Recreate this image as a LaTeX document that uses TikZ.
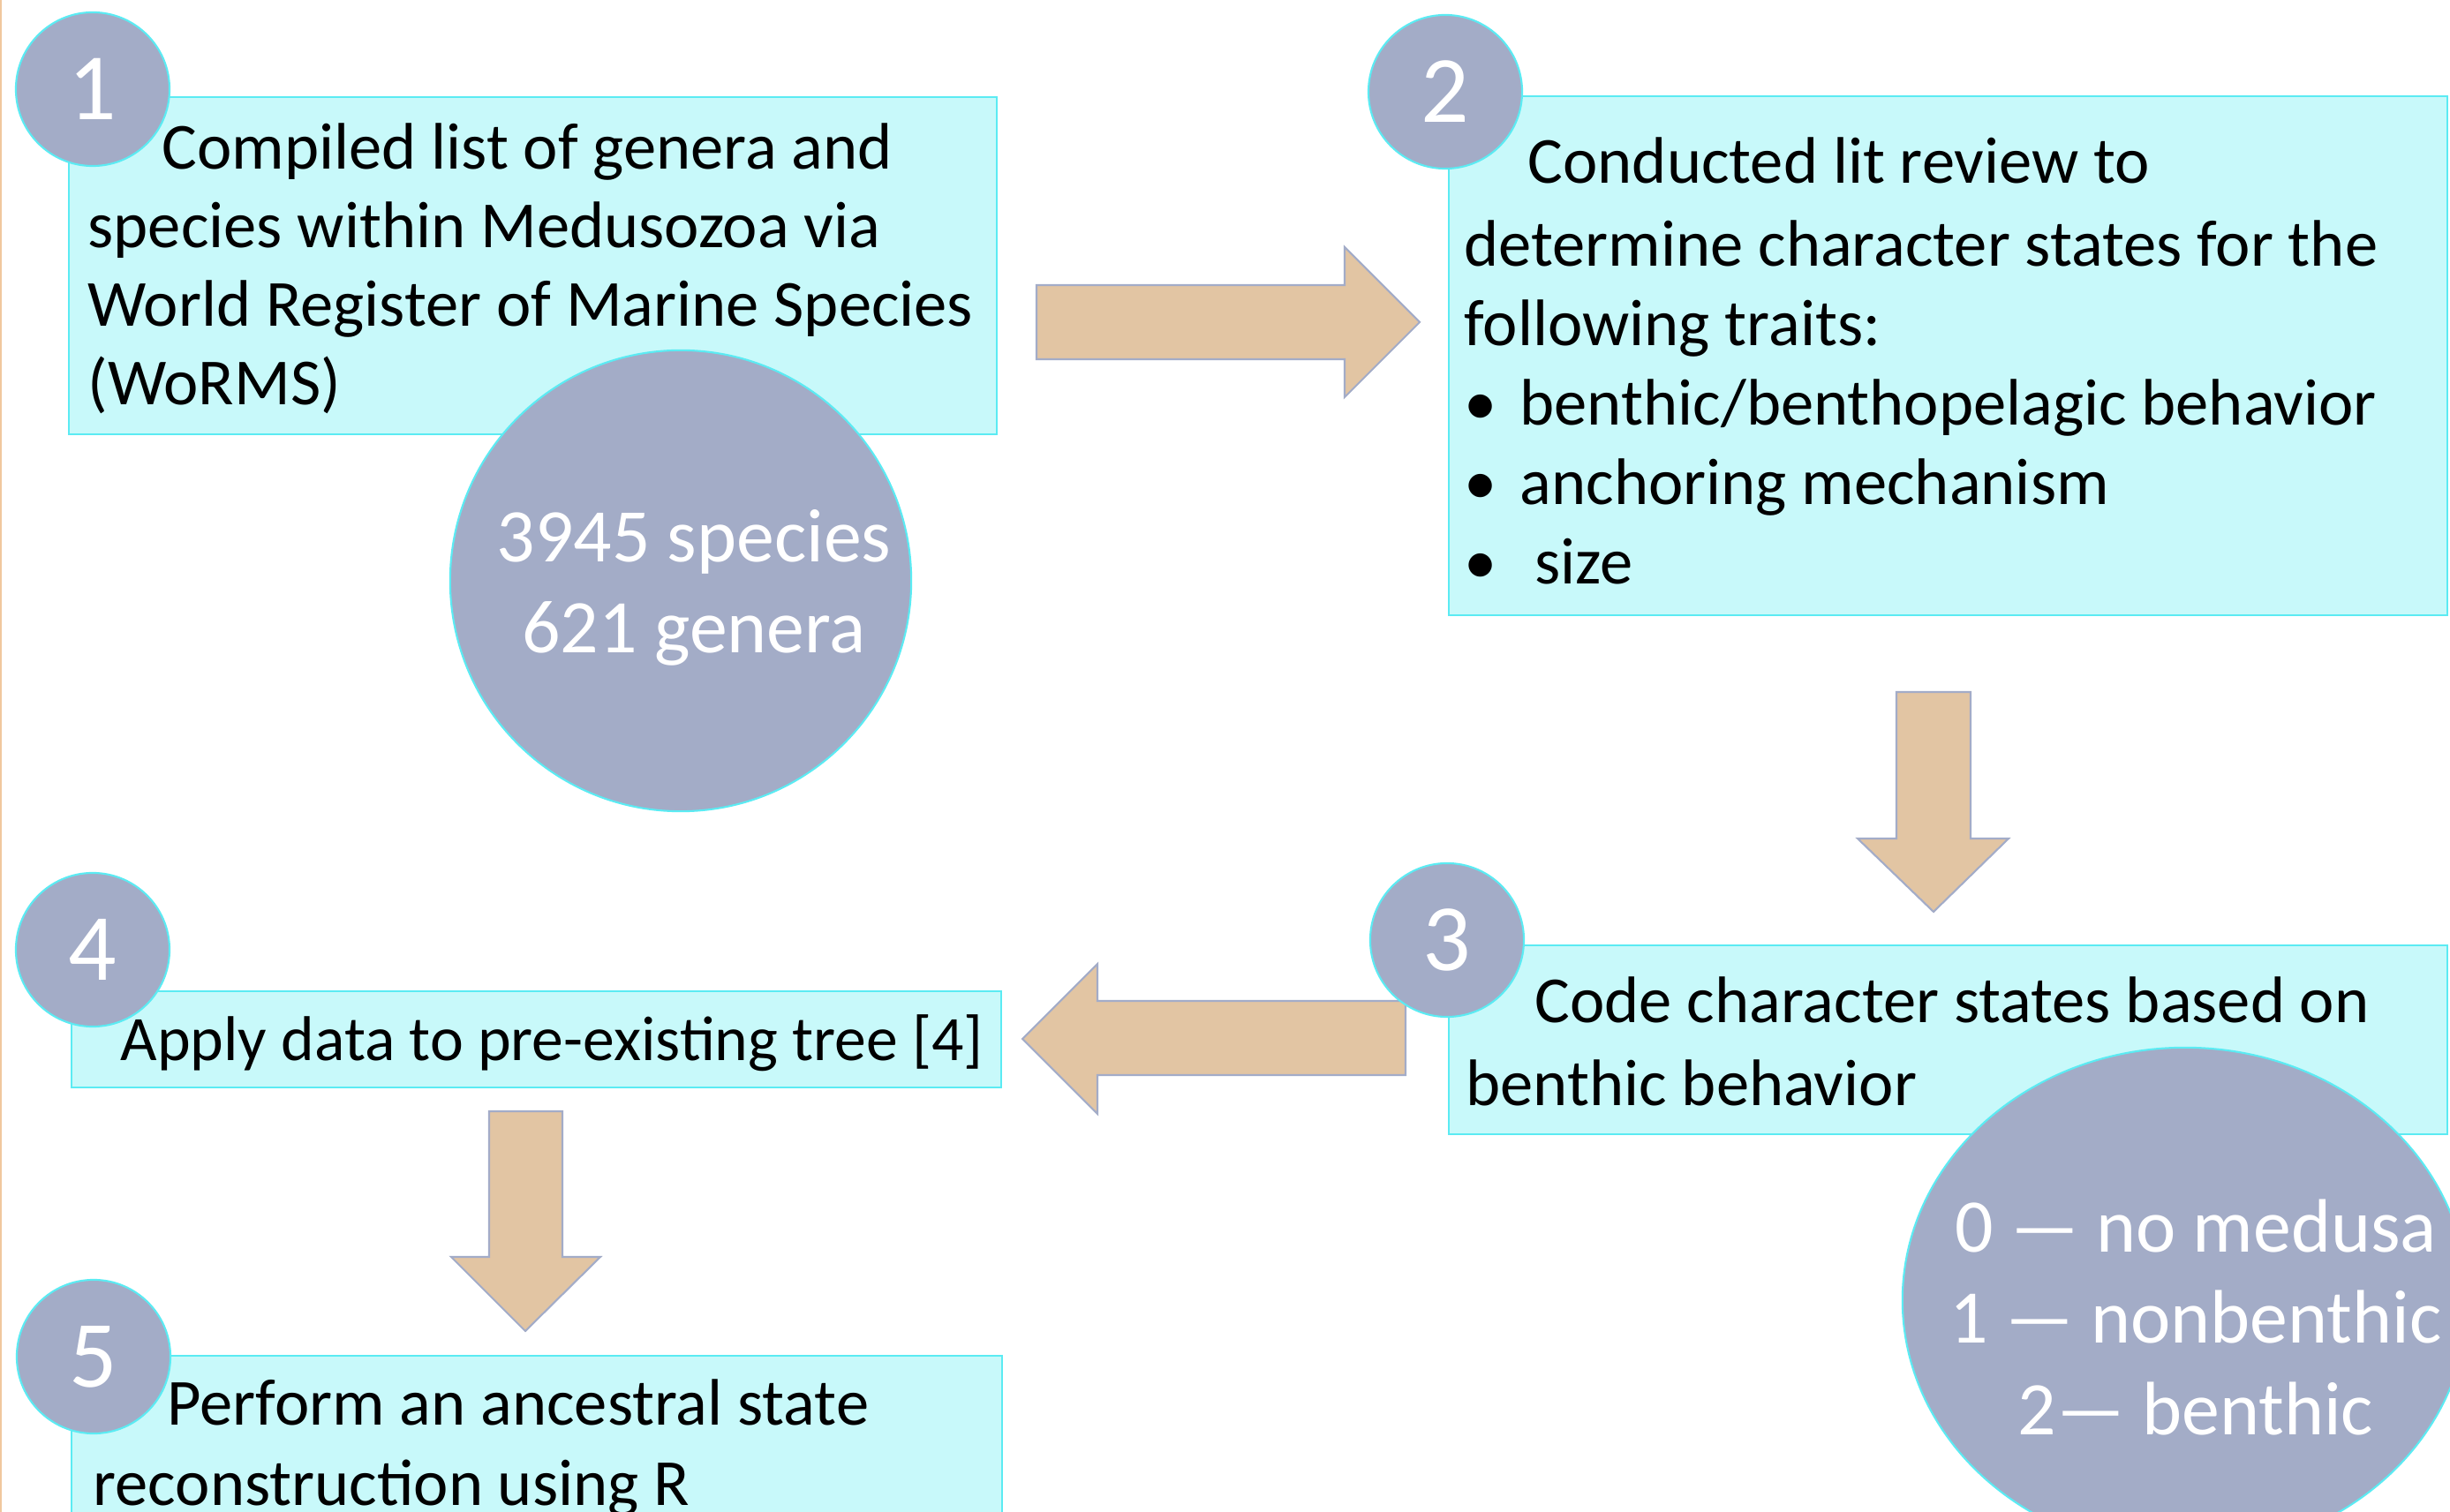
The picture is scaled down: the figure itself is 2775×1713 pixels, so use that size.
\documentclass[tikz,border=0pt]{standalone}
\usepackage{fontspec}
\setmainfont{Carlito}
\usetikzlibrary{shapes.geometric}

\definecolor{boxfill}{HTML}{C8F9FA}
\definecolor{boxline}{HTML}{5BEBF3}
\definecolor{dotfill}{HTML}{A3ACC7}
\definecolor{arrowfill}{HTML}{E2C5A3}
\definecolor{arrowline}{HTML}{A3ACC8}
\definecolor{edgeline}{HTML}{F0C89E}

\tikzset{
    stepbox/.style={rectangle,draw=boxline,fill=boxfill,line width=0.6pt,inner sep=0pt},
    stepnum/.style={circle,draw=boxline,fill=dotfill,line width=0.6pt,minimum size=1.74cm,inner sep=0pt,text=white,font=\fontsize{30.6}{36}\selectfont},
    bigdot/.style={draw=boxline,fill=dotfill,line width=0.6pt,inner sep=0pt},
    steptext/.style={anchor=base west,align=left,inner sep=0pt,font=\fontsize{21.2}{25.4}\selectfont},
    dottext/.style={anchor=base,align=center,inner sep=0pt,text=white,font=\fontsize{24.4}{29.3}\selectfont},
    blockarrow/.style={draw=arrowline,fill=arrowfill,line width=0.6pt,line join=miter}
}

\begin{document}
\begin{tikzpicture}[x=0.01cm,y=-0.01cm]
    \useasboundingbox (0,0) rectangle (2775,1713);
    \clip (0,0) rectangle (2775,1713);

    % Orange rule on the left edge
    \draw[edgeline,line width=0.6pt] (1,0) -- (1,1713);

    % Block arrows between the steps
    \draw[blockarrow] (1174,323) -- (1523,323) -- (1523,280) -- (1608,365) -- (1523,450) -- (1523,407) -- (1174,407) -- cycle;
    \draw[blockarrow] (2148,784) -- (2232,784) -- (2232,950) -- (2275,950) -- (2190,1033) -- (2104,950) -- (2148,950) -- cycle;
    \draw[blockarrow] (1592,1134) -- (1243,1134) -- (1243,1092) -- (1158,1177) -- (1243,1262) -- (1243,1218) -- (1592,1218) -- cycle;
    \draw[blockarrow] (554,1259) -- (637,1259) -- (637,1424) -- (680,1424) -- (595,1508) -- (511,1424) -- (554,1424) -- cycle;

    % Step 1 (text anchored at the baseline of its last line)
    \node[stepbox,minimum width=10.51cm,minimum height=3.82cm] (box1) at (603.5,301) {};
    \node[bigdot,circle,minimum size=5.22cm] (count) at (771,658) {};
    \node[stepnum] (num1) at (105,101) {1};
    \node[steptext] (text1) at (99,459) {\hspace*{0.84cm}Compiled list of genera and\\species within Medusozoa via\\World Register of Marine Species\\(WoRMS)};
    \node[dottext] (counttext) at (786,740) {3945 species\\621 genera};

    % Step 2
    \node[stepbox,minimum width=11.31cm,minimum height=5.88cm] (box2) at (2206.5,403) {};
    \node[stepnum] (num2) at (1637,104) {2};
    \node[steptext,font=\fontsize{21.2}{25.6}\selectfont] (text2) at (1658,662) {\hspace*{0.72cm}Conducted lit review to\\[1.1pt]
        determine character states for the\\
        following traits:\\
        \makebox[0.63cm][l]{\textbullet}benthic/benthopelagic behavior\\
        \makebox[0.63cm][l]{\textbullet}anchoring mechanism\\
        \makebox[0.63cm][l]{\textbullet}\ size};

    % Step 3
    \node[stepbox,minimum width=11.31cm,minimum height=2.14cm] (box3) at (2206.5,1178) {};
    \node[stepnum] (num3) at (1639,1065) {3};
    \node[bigdot,ellipse,minimum width=6.40cm,minimum height=5.72cm] (states) at (2475,1473) {};
    \node[steptext] (text3) at (1660,1252) {\hspace*{0.78cm}Code character states based on\\[1.1pt]benthic behavior};
    \node[dottext] (statetext) at (2487,1625) {0 — no medusa\\1 — nonbenthic\\2— benthic};

    % Step 4
    \node[stepbox,minimum width=10.53cm,minimum height=1.09cm] (box4) at (607.5,1177.5) {};
    \node[stepnum] (num4) at (105,1076) {4};
    \node[steptext,font=\fontsize{20.4}{24}\selectfont] (text4) at (136,1202) {Apply data to pre-existing tree [4]};

    % Step 5
    \node[stepbox,minimum width=10.54cm,minimum height=2.24cm] (box5) at (608,1648) {};
    \node[stepnum] (num5) at (106,1537) {5};
    \node[steptext,font=\fontsize{21.2}{25.6}\selectfont] (text5) at (105,1705) {\hspace*{0.84cm}Perform an ancestral state\\reconstruction using R};
\end{tikzpicture}
\end{document}
